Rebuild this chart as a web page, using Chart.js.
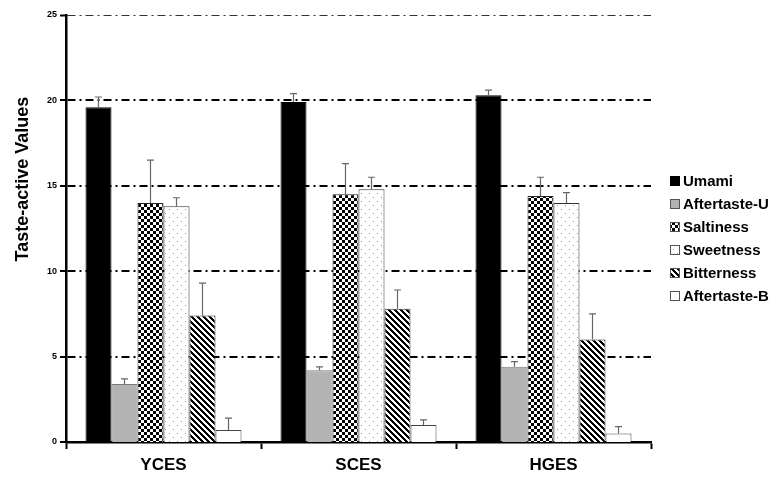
<!DOCTYPE html>
<html>
<head>
<meta charset="utf-8">
<style>
  html, body { margin: 0; padding: 0; background: #fff; }
  #wrap { width: 777px; height: 480px; position: relative; }
</style>
<script src="https://cdn.jsdelivr.net/npm/chart.js@4.4.1/dist/chart.umd.min.js"></script>
</head>
<body>
<div id="wrap"><canvas id="c" width="777" height="480"></canvas></div>
<script>
// Samples on the x axis and taste attributes (one series each)
const samples = ['YCES', 'SCES', 'HGES'];
const tastes = ['Umami', 'Aftertaste-U', 'Saltiness', 'Sweetness', 'Bitterness', 'Aftertaste-B'];

// Mean taste-active values per sample, with standard deviations
const umami         = [19.6, 19.9, 20.3];
const umamiSD       = [0.6, 0.5, 0.3];
const aftertasteU   = [3.4, 4.2, 4.4];
const aftertasteUSD = [0.3, 0.2, 0.3];
const saltiness     = [14.0, 14.5, 14.4];
const saltinessSD   = [2.5, 1.8, 1.1];
const sweetness     = [13.8, 14.8, 14.0];
const sweetnessSD   = [0.5, 0.7, 0.6];
const bitterness    = [7.4, 7.8, 6.0];
const bitternessSD  = [1.9, 1.1, 1.5];
const aftertasteB   = [0.7, 1.0, 0.5];
const aftertasteBSD = [0.7, 0.3, 0.4];

// Y axis ticks
const yTicks = [0, 5, 10, 15, 20, 25];

const FONT = '"Liberation Sans", Arial, Helvetica, sans-serif';

// ---- fill patterns -------------------------------------------------------
function tile(size, paint) {
  const t = document.createElement('canvas');
  t.width = size; t.height = size;
  const g = t.getContext('2d');
  paint(g, size);
  return t;
}
const canvas = document.getElementById('c');
const mainCtx = canvas.getContext('2d');

const checkerTile = tile(6, (g) => {
  g.fillStyle = '#fff'; g.fillRect(0, 0, 6, 6);
  g.fillStyle = '#000'; g.fillRect(0, 0, 3, 3); g.fillRect(3, 3, 3, 3);
});
const dotTile = tile(8, (g) => {
  g.fillStyle = '#fff'; g.fillRect(0, 0, 8, 8);
  g.fillStyle = '#9a9a9a'; g.fillRect(1, 1, 1, 1); g.fillRect(5, 5, 1, 1);
});
const stripeTile = tile(6, (g) => {
  g.fillStyle = '#fff'; g.fillRect(0, 0, 6, 6);
  g.fillStyle = '#000';
  for (let x = 0; x < 6; x++) {
    for (let y = 0; y < 6; y++) {
      if (((x - y) % 6 + 6) % 6 < 3) g.fillRect(x, y, 1, 1);
    }
  }
});

const fills = {
  umami: '#000000',
  aftertasteU: '#b3b3b3',
  saltiness: mainCtx.createPattern(checkerTile, 'repeat'),
  sweetness: mainCtx.createPattern(dotTile, 'repeat'),
  bitterness: mainCtx.createPattern(stripeTile, 'repeat'),
  aftertasteB: '#ffffff'
};
const borders = {
  umami: '#000000',
  aftertasteU: '#7a7a7a',
  saltiness: '#222222',
  sweetness: '#333333',
  bitterness: '#333333',
  aftertasteB: '#444444'
};

function series(label, key, data, sd) {
  return {
    label: label,
    data: data,
    errors: sd,
    backgroundColor: fills[key],
    borderColor: borders[key],
    borderWidth: 1,
    borderSkipped: 'bottom',
    categoryPercentage: 0.8,
    barPercentage: 1.0
  };
}

const datasets = [
  series(tastes[0], 'umami', umami, umamiSD),
  series(tastes[1], 'aftertasteU', aftertasteU, aftertasteUSD),
  series(tastes[2], 'saltiness', saltiness, saltinessSD),
  series(tastes[3], 'sweetness', sweetness, sweetnessSD),
  series(tastes[4], 'bitterness', bitterness, bitternessSD),
  series(tastes[5], 'aftertasteB', aftertasteB, aftertasteBSD)
];

// ---- plugins ---------------------------------------------------------------
// Upward error bars with caps
const errorBars = {
  id: 'errorBars',
  afterDatasetsDraw(chart) {
    const ctx = chart.ctx;
    const y = chart.scales.y;
    ctx.save();
    ctx.strokeStyle = '#666';
    ctx.lineWidth = 1.2;
    chart.data.datasets.forEach((ds, i) => {
      const meta = chart.getDatasetMeta(i);
      meta.data.forEach((bar, j) => {
        const top = y.getPixelForValue(ds.data[j] + ds.errors[j]);
        ctx.beginPath();
        ctx.moveTo(bar.x, bar.y);
        ctx.lineTo(bar.x, top);
        ctx.moveTo(bar.x - 3.5, top);
        ctx.lineTo(bar.x + 3.5, top);
        ctx.stroke();
      });
    });
    ctx.restore();
  }
};

// Y-axis title and legend at the right
const decorations = {
  id: 'decorations',
  afterDraw(chart) {
    const ctx = chart.ctx;
    ctx.save();
    // axis title
    ctx.translate(23, 179);
    ctx.rotate(-Math.PI / 2);
    ctx.fillStyle = '#000';
    ctx.font = 'bold 18px ' + FONT;
    ctx.textAlign = 'center';
    ctx.textBaseline = 'middle';
    ctx.fillText('Taste-active Values', 0, 0);
    ctx.restore();

    // legend
    ctx.save();
    ctx.font = 'bold 15px ' + FONT;
    ctx.textBaseline = 'middle';
    ctx.textAlign = 'left';
    chart.data.datasets.forEach((ds, i) => {
      const cy = 181 + i * 23;
      ctx.fillStyle = ds.backgroundColor;
      ctx.fillRect(670.5, cy - 4.5, 9, 9);
      ctx.strokeStyle = i === 0 ? '#000' : '#555';
      ctx.lineWidth = 1;
      ctx.strokeRect(670.5, cy - 4.5, 9, 9);
      ctx.fillStyle = '#000';
      ctx.fillText(ds.label, 683, cy + 1);
    });
    ctx.restore();
  }
};

// ---- chart -----------------------------------------------------------------
new Chart(canvas, {
  type: 'bar',
  data: { labels: samples, datasets: datasets },
  options: {
    responsive: false,
    animation: false,
    layout: { padding: { top: 15, right: 126, left: 0, bottom: 0 } },
    plugins: {
      legend: { display: false },
      tooltip: { enabled: false }
    },
    scales: {
      x: {
        offset: true,
        afterFit(scale) { scale.height = 38; },
        grid: {
          display: true,
          drawOnChartArea: false,
          drawTicks: true,
          tickLength: 7,
          tickWidth: 2,
          tickColor: '#000'
        },
        border: { display: true, color: '#000', width: 2.5 },
        ticks: {
          color: '#000',
          padding: 6,
          font: { family: FONT, size: 17, weight: 'bold' }
        }
      },
      y: {
        min: yTicks[0],
        max: yTicks[yTicks.length - 1],
        afterFit(scale) { scale.width = 66; },
        afterBuildTicks(scale) { scale.ticks = yTicks.map(v => ({ value: v })); },
        grid: {
          display: true,
          drawOnChartArea: true,
          drawTicks: true,
          tickLength: 6,
          color: (c) => (c.tick && c.tick.value === 25 ? '#333' : '#000'),
          lineWidth: (c) => {
            if (!c.tick) return 0;
            if (c.tick.value === 0) return 0;
            return c.tick.value === 25 ? 1 : 2;
          },
          tickColor: '#000',
          tickWidth: 2
        },
        border: { display: true, color: '#000', width: 2.5, dash: [8, 4, 2, 4] },
        ticks: {
          color: '#000',
          padding: 3,
          font: { family: FONT, size: 9, weight: 'bold' }
        }
      }
    }
  },
  plugins: [errorBars, decorations]
});
</script>
</body>
</html>
